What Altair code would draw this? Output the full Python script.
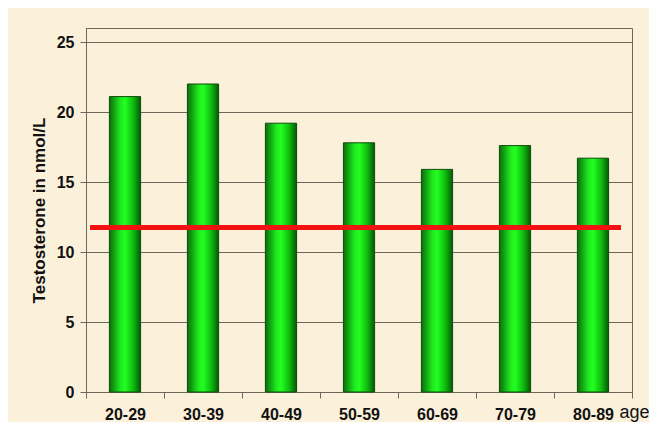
import altair as alt
import pandas as pd

ages = ["20-29", "30-39", "40-49", "50-59", "60-69", "70-79", "80-89"]
testosterone = [21.1, 22.0, 19.2, 17.8, 15.9, 17.6, 16.7]
threshold = [11.75]

df = pd.DataFrame({"age": ages, "value": testosterone})
ref = pd.DataFrame({"value": threshold})

grid = "#6e665a"
font = "Liberation Sans"

x = alt.X(
    "age:N",
    sort=ages,
    scale=alt.Scale(paddingInner=0, paddingOuter=0),
    axis=alt.Axis(
        title="age",
        labelAngle=0,
        labelFontSize=16,
        labelFontWeight="bold",
        labelFont=font,
        labelColor="#111",
        labelPadding=8,
        tickBand="extent",
        tickSize=6,
        tickColor=grid,
        domainColor=grid,
        titleFont=font,
        titleFontSize=18,
        titleFontWeight="normal",
        titleColor="#111",
        titleX=548,
        titleY=20,
        titleAlign="center",
        titleBaseline="middle",
    ),
)

y = alt.Y(
    "value:Q",
    scale=alt.Scale(domain=[0, 25]),
    axis=alt.Axis(
        title="Testosterone in nmol/L",
        values=[0, 5, 10, 15, 20, 25],
        labelFontSize=16,
        labelFontWeight="bold",
        labelFont=font,
        labelColor="#111",
        labelPadding=6,
        tickSize=6,
        tickColor=grid,
        domainColor=grid,
        gridColor=grid,
        gridOpacity=1,
        titleFont=font,
        titleFontSize=17,
        titleFontWeight="bold",
        titleColor="#111",
        titlePadding=8,
    ),
)

bars = alt.Chart(df).mark_bar(
    width=alt.RelativeBandSize(0.4),
    fill=alt.Gradient(
        gradient="linear",
        x1=0, x2=1, y1=0, y2=0,
        stops=[
            alt.GradientStop(offset=0, color="#0a6e0a"),
            alt.GradientStop(offset=0.35, color="#1fe81f"),
            alt.GradientStop(offset=0.5, color="#22ff22"),
            alt.GradientStop(offset=0.75, color="#10c010"),
            alt.GradientStop(offset=1, color="#045a04"),
        ],
    ),
    stroke="#0b4d0b",
    strokeWidth=1,
).encode(x=x, y=y)

rule = alt.Chart(ref).mark_rule(color="#f21212", strokeWidth=5).encode(
    y="value:Q",
    x=alt.value(4),
    x2=alt.value(535),
)

chart = (
    alt.layer(bars, rule)
    .properties(
        width=546,
        height=364,
        autosize=alt.AutoSizeParams(type="none"),
        padding={"left": 78, "top": 20, "right": 17, "bottom": 30},
        background="#fbf0da",
    )
    .configure_view(stroke=grid, strokeWidth=1)
)

chart.save("out.html", embed_options={"renderer": "svg", "actions": False})
